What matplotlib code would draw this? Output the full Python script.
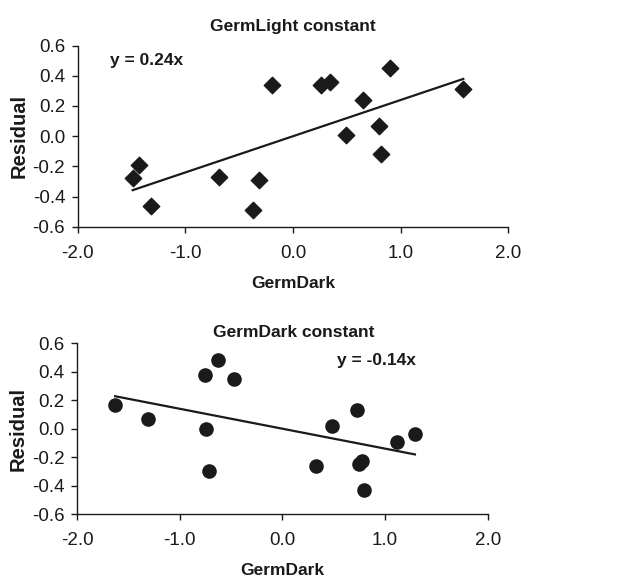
import matplotlib
matplotlib.use('Agg')
import matplotlib.pyplot as plt
import numpy as np

plt.rcParams['font.family'] = ['Liberation Sans', 'DejaVu Sans']

# GermLight constant panel
light_x = [-1.49, -1.43, -1.32, -0.69, -0.37, -0.32, -0.20, 0.26, 0.34, 0.49, 0.65, 0.80, 0.82, 0.90, 1.58]
light_y = [-0.28, -0.19, -0.46, -0.27, -0.49, -0.29, 0.34, 0.34, 0.36, 0.01, 0.24, 0.07, -0.12, 0.45, 0.31]
light_slope = 0.24

# GermDark constant panel
dark_x = [-1.63, -1.31, -0.75, -0.63, -0.47, -0.74, -0.72, 0.33, 0.48, 0.73, 0.75, 0.77, 0.79, 1.12, 1.29]
dark_y = [0.17, 0.07, 0.38, 0.48, 0.35, 0.00, -0.30, -0.26, 0.02, 0.13, -0.25, -0.23, -0.43, -0.09, -0.04]
dark_slope = -0.14

xticks = [-2.0, -1.0, 0.0, 1.0, 2.0]
yticks = [-0.6, -0.4, -0.2, 0.0, 0.2, 0.4, 0.6]

ink = '#1a1a1a'
fig = plt.figure(figsize=(6.27, 5.77), dpi=100)
ax1 = fig.add_axes([0.124, 0.607, 0.687, 0.314])
ax2 = fig.add_axes([0.123, 0.109, 0.655, 0.296])


def style(ax, title, title_x, title_y):
    ax.set_xlim(-2, 2)
    ax.set_ylim(-0.6, 0.6)
    ax.set_xticks(xticks)
    ax.set_yticks(yticks)
    ax.set_xticklabels(['%.1f' % t for t in xticks])
    ax.set_yticklabels(['%.1f' % t for t in yticks])
    for s in ['top', 'right']:
        ax.spines[s].set_visible(False)
    for s in ['left', 'bottom']:
        ax.spines[s].set_color(ink)
        ax.spines[s].set_linewidth(1.0)
    ax.tick_params(direction='out', length=4, width=1, colors=ink, labelsize=13.5)
    ax.tick_params(axis='x', pad=9)
    ax.tick_params(axis='y', pad=5)
    ax.set_xlabel('GermDark', fontsize=12.5, fontweight='bold', color=ink, labelpad=10)
    ax.set_ylabel('Residual', fontsize=14.5, fontweight='bold', color=ink, labelpad=3)
    ax.text(title_x, title_y, title, transform=ax.transAxes, ha='center', va='baseline',
            fontsize=12.5, fontweight='bold', color=ink)


ax1.scatter(light_x, light_y, marker='D', s=70, color=ink, zorder=3)
lx = np.array([min(light_x), max(light_x)])
ax1.plot(lx, light_slope * lx, color=ink, lw=1.6)
ax1.text(-1.70, 0.50, 'y = 0.24x', fontsize=12.5, fontweight='bold', color=ink, va='center')
style(ax1, 'GermLight constant', 0.5, 1.083)

ax2.scatter(dark_x, dark_y, marker='o', s=90, color=ink, zorder=3)
dx = np.array([min(dark_x), max(dark_x)])
ax2.plot(dx, dark_slope * dx, color=ink, lw=1.6)
ax2.text(0.53, 0.48, 'y = -0.14x', fontsize=12.5, fontweight='bold', color=ink, va='center')
style(ax2, 'GermDark constant', 0.527, 1.039)

fig.savefig('out.png', dpi=100)
